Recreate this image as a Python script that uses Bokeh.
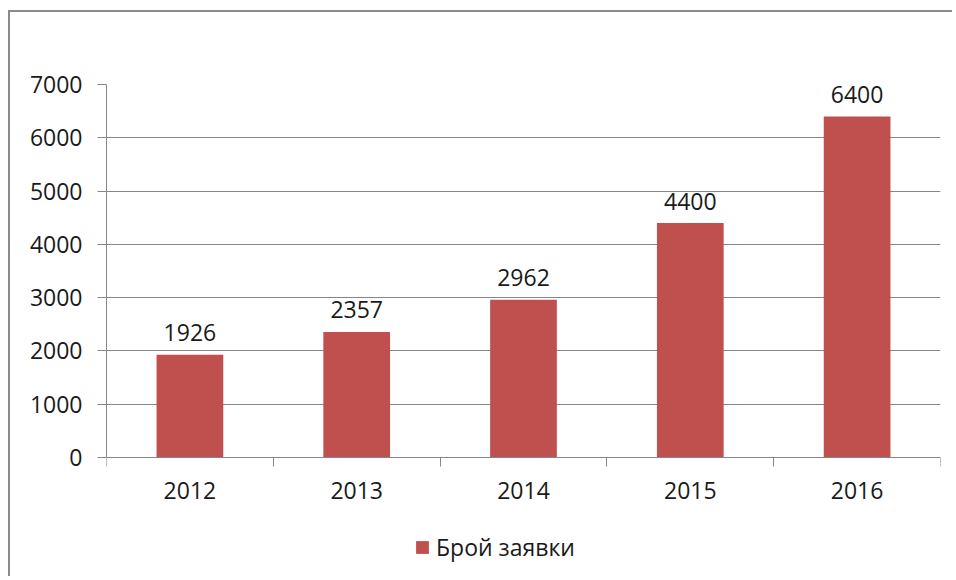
from bokeh.plotting import figure
from bokeh.models import ColumnDataSource, FixedTicker, Range1d, Legend, LegendItem
from bokeh.core.properties import value
from bokeh.embed import file_html
from bokeh.resources import INLINE

years = ["2012", "2013", "2014", "2015", "2016"]
counts = [1926, 2357, 2962, 4400, 6400]
series_name = "Брой заявки"
y_ticks = [0, 1000, 2000, 3000, 4000, 5000, 6000, 7000]

FONT = "Open Sans"
TEXT = "#1a1a1a"
GRID = "#868686"
BAR = "#C0504D"

pos = [i + 0.5 for i in range(len(years))]
src = ColumnDataSource(dict(x=pos, year=years, count=counts,
                            label=[str(c) for c in counts]))

# frame spans 494 px: 7000 units above zero take 373 px
y_max = y_ticks[-1]
y_min = -y_max * (494 - 373) / 373

p = figure(width=944, height=566, output_backend="svg", toolbar_location=None,
           x_range=Range1d(0, len(years)), y_range=Range1d(y_min, y_max),
           min_border_left=96, min_border_right=14, min_border_top=72,
           min_border_bottom=0, outline_line_color=None,
           styles={"border-top": "2px solid #8a8a8a", "border-left": "2px solid #8a8a8a",
                   "margin-top": "10px", "margin-left": "8px"})

r = p.vbar(x="x", top="count", width=0.4, source=src, fill_color=BAR, line_color=None)
p.text(x="x", y="count", text="label", source=src, text_align="center",
       text_baseline="alphabetic", y_offset=-22, text_font=value(FONT),
       text_font_size="23px", text_color=TEXT)

# x axis, drawn at y = 0
xa = p.xaxis[0]
xa.fixed_location = 0
xa.ticker = FixedTicker(ticks=pos, minor_ticks=list(range(len(years) + 1)))
xa.major_label_overrides = {pp: y for pp, y in zip(pos, years)}
xa.major_tick_out = 0
xa.major_tick_in = 0
xa.minor_tick_out = 9
xa.minor_tick_in = 0
xa.minor_tick_line_color = GRID
xa.axis_line_color = GRID
xa.major_label_standoff = 15
xa.major_label_text_font = FONT
xa.major_label_text_font_size = "23px"
xa.major_label_text_color = TEXT

ya = p.yaxis[0]
ya.ticker = FixedTicker(ticks=y_ticks)
ya.bounds = (0, y_max)
ya.major_tick_out = 9
ya.major_tick_in = 0
ya.minor_tick_line_color = None
ya.major_tick_line_color = GRID
ya.axis_line_color = GRID
ya.major_label_standoff = 15
ya.major_label_text_font = FONT
ya.major_label_text_font_size = "23px"
ya.major_label_text_color = TEXT

p.xgrid.grid_line_color = None
p.ygrid.grid_line_color = GRID
p.ygrid.ticker = FixedTicker(ticks=y_ticks)

legend = Legend(items=[LegendItem(label=series_name, renderers=[r])],
                location=(308, 15), orientation="horizontal",
                border_line_color=None, background_fill_alpha=0,
                padding=0, margin=0, glyph_width=16, glyph_height=16,
                label_standoff=6, label_text_font=FONT,
                label_text_font_size="23px", label_text_color=TEXT)
p.add_layout(legend, "center")

open("out.html", "w").write(file_html(p, INLINE))
